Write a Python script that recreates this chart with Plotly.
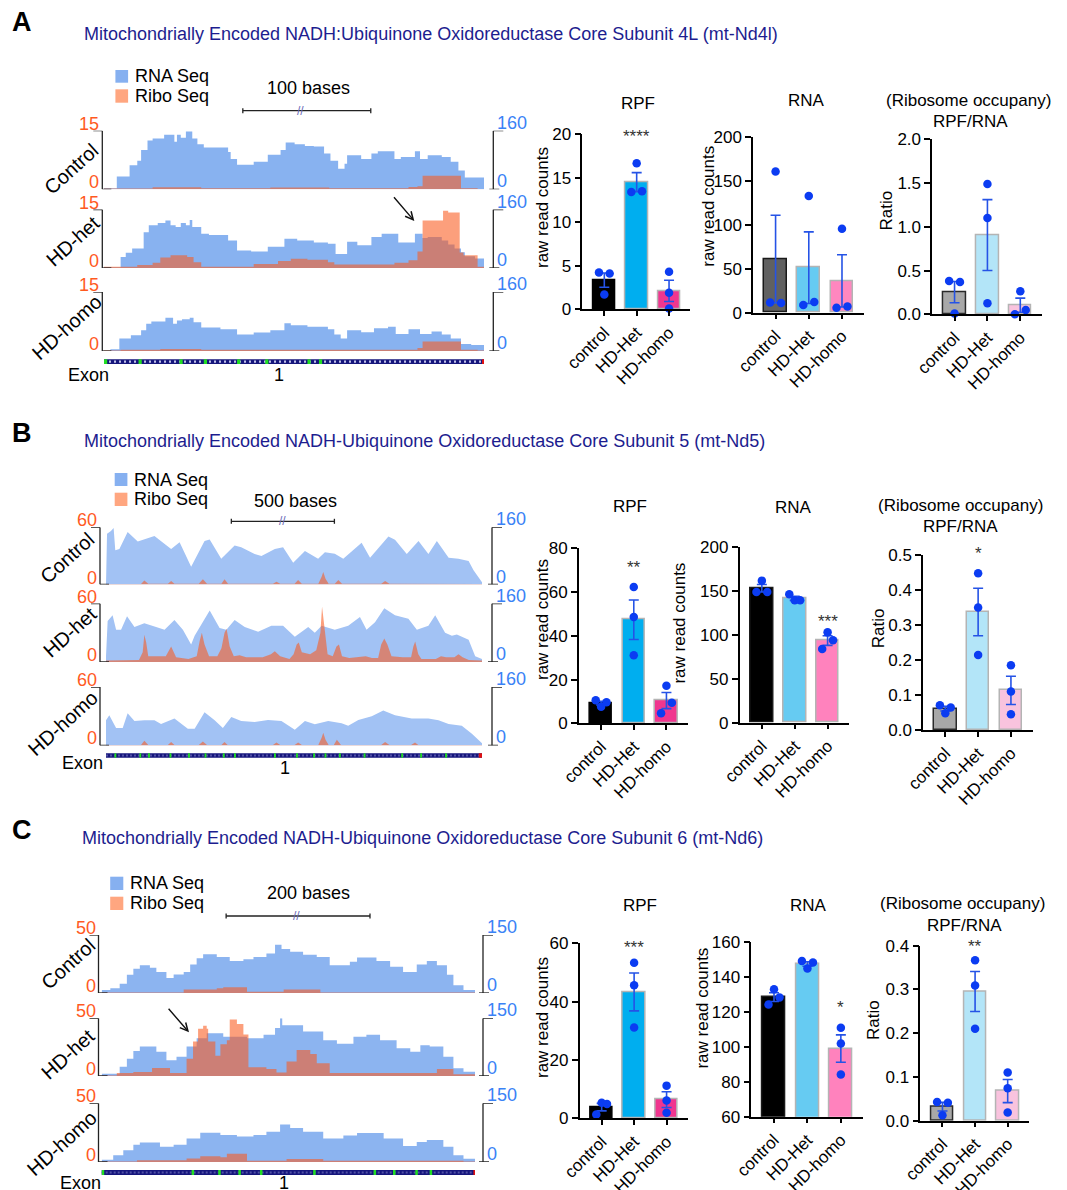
import numpy as np
import plotly.graph_objects as go

W, H = 1067, 1190
FONT = "Liberation Sans, Arial, Helvetica, sans-serif"


def fx(p):
    return p / W


def fy(p):
    return 1 - p / H


GROUPS = ["control", "HD-Het", "HD-homo"]
ROWS = ["Control", "HD-het", "HD-homo"]

TITLE_A = "Mitochondrially Encoded NADH:Ubiquinone Oxidoreductase Core Subunit 4L (mt-Nd4l)"
TITLE_B = "Mitochondrially Encoded NADH-Ubiquinone Oxidoreductase Core Subunit 5 (mt-Nd5)"
TITLE_C = "Mitochondrially Encoded NADH-Ubiquinone Oxidoreductase Core Subunit 6 (mt-Nd6)"

# ---------------- bar-chart data (3 replicates per group) ----------------
a_rpf = [[4.2, 1.7, 4.1], [13.4, 16.7, 13.5], [4.3, 1.9, 0.1]]
a_rna = [[11.5, 161.0, 11.0], [8.7, 133.0, 12.2], [5.7, 95.8, 7.2]]
a_ratio = [[0.38, 0.01, 0.37], [1.49, 1.10, 0.126], [0.0, 0.263, 0.05]]

b_rpf = [[10.5, 7.6, 9.6], [62.3, 48.6, 31.1], [4.6, 17.2, 9.4]]
b_rna = [[149.0, 162.0, 149.0], [146.4, 139.5, 139.5], [84.0, 103.0, 94.0]]
b_ratio = [[0.071, 0.048, 0.064], [0.448, 0.350, 0.214], [0.185, 0.110, 0.045]]

c_rpf = [[1.3, 5.3, 4.9], [53.3, 45.6, 31.1], [11.2, 6.1, 1.9]]
c_rna = [[124.2, 132.9, 128.2], [149.1, 144.8, 148.3], [110.9, 101.9, 84.2]]
c_ratio = [[0.0427, 0.0122, 0.041], [0.367, 0.309, 0.210], [0.110, 0.074, 0.019]]

# ---------------- coverage tracks: (base position, read count) ----------------
# mt-Nd4l (297 bases)  RNA scale 0-160, Ribo scale 0-15
a_ctrl_rna = [(0, 3), (10, 35), (20, 66), (26, 78), (29, 107), (34, 133), (38, 139), (47, 149), (55, 130),
              (57, 149), (60, 141), (64, 158), (69, 139), (73, 123), (78, 114), (97, 102), (99, 83), (104, 67),
              (117, 75), (128, 94), (138, 107), (142, 128), (149, 123), (157, 118), (164, 117), (172, 98),
              (177, 78), (183, 56), (188, 70), (190, 93), (201, 83), (209, 98), (214, 104), (227, 83), (232, 88),
              (243, 104), (247, 83), (253, 93), (264, 88), (271, 75), (277, 51), (282, 32), (297, 32)]
a_ctrl_ribo = [(0, 0.2), (38, 0.5), (76, 0.3), (130, 0.45), (176, 0.3), (238, 0.6), (245, 0.8), (249, 3.5),
               (279, 0.3), (292, 0.1), (297, 0.1)]
a_het_rna = [(0, 2), (13, 30), (17, 42), (22, 53), (31, 98), (35, 117), (42, 123), (48, 130), (52, 117), (56, 112),
             (60, 123), (64, 117), (67, 131), (69, 112), (76, 94), (82, 90), (97, 75), (104, 48), (115, 45),
             (128, 58), (141, 80), (151, 75), (164, 70), (175, 66), (181, 38), (190, 72), (198, 62), (209, 85),
             (217, 94), (230, 70), (243, 94), (249, 82), (253, 85), (264, 75), (269, 64), (274, 53), (279, 43),
             (282, 32), (290, 26), (297, 26)]
a_het_ribo = [(0, 0.3), (26, 0.75), (38, 1.35), (44, 2.7), (52, 3.3), (65, 2.85), (70, 1.5), (76, 0.3),
              (117, 1.05), (136, 1.8), (146, 2.4), (159, 2.1), (175, 1.5), (180, 0.9), (227, 1.35), (238, 2.0),
              (245, 4.2), (249, 12.2), (265, 14.7), (269, 14.2), (278, 4.0), (281, 3.3), (292, 0.3), (297, 0.3)]
a_homo_rna = [(0, 0), (5, 5), (12, 34), (21, 43), (29, 56), (33, 74), (37, 80), (48, 90), (54, 74), (57, 83),
              (61, 86), (67, 90), (70, 78), (76, 64), (91, 59), (104, 45), (117, 50), (130, 56), (141, 75),
              (146, 70), (159, 66), (175, 59), (180, 45), (185, 34), (190, 56), (201, 51), (211, 62), (222, 66),
              (228, 46), (238, 59), (247, 46), (256, 53), (264, 45), (271, 34), (279, 19), (287, 16), (297, 16)]
a_homo_ribo = [(0, 0.1), (13, 0.3), (44, 0.5), (76, 0.3), (245, 0.75), (249, 2.4), (279, 0.3), (292, 0.1),
               (297, 0.1)]

# mt-Nd5 (1824 bases)  RNA scale 0-160, Ribo scale 0-60
b_ctrl_rna = [(0, 0), (5, 142), (24, 150), (37, 158), (45, 96), (65, 99), (105, 147), (154, 120), (235, 136),
              (316, 99), (357, 118), (413, 50), (478, 122), (503, 126), (559, 72), (624, 109), (656, 104),
              (721, 85), (754, 80), (819, 99), (859, 104), (908, 61), (965, 94), (1029, 72), (1062, 90),
              (1110, 86), (1151, 72), (1240, 117), (1281, 75), (1370, 134), (1402, 125), (1459, 85), (1516, 122),
              (1564, 85), (1605, 122), (1662, 75), (1710, 72), (1759, 66), (1783, 40), (1824, 6)]
b_ctrl_ribo = [(0, 0.6), (170, 0.6), (186, 4.2), (205, 0.8), (300, 0.8), (316, 3.6), (332, 0.8), (450, 0.8),
               (470, 5.4), (490, 0.8), (560, 0.8), (575, 5.4), (592, 0.8), (810, 0.8), (827, 3), (845, 0.8),
               (915, 0.8), (932, 4.8), (950, 0.8), (1030, 0.8), (1046, 8), (1054, 13), (1065, 6), (1080, 0.8),
               (1110, 0.8), (1127, 4.8), (1145, 0.8), (1335, 0.8), (1354, 3.6), (1375, 0.8), (1824, 0.6)]
b_het_rna = [(0, 16), (8, 112), (32, 128), (49, 88), (73, 88), (102, 125), (138, 96), (186, 106), (243, 96),
             (284, 88), (332, 115), (373, 88), (413, 48), (430, 72), (503, 141), (551, 93), (584, 88), (624, 115),
             (673, 96), (738, 83), (802, 99), (859, 99), (916, 69), (981, 96), (1013, 80), (1046, 99), (1110, 88),
             (1175, 99), (1232, 123), (1264, 88), (1305, 109), (1350, 147), (1402, 128), (1467, 118), (1508, 88),
             (1564, 99), (1597, 128), (1645, 80), (1678, 72), (1702, 75), (1759, 61), (1791, 16), (1824, 8)]
b_het_ribo = [(0, 1.5), (160, 2), (178, 10), (186, 28), (195, 20), (205, 6), (260, 6), (290, 6), (316, 16),
              (340, 5), (400, 3), (440, 6), (455, 22), (465, 30), (478, 18), (500, 6), (540, 6), (560, 14),
              (575, 30), (585, 34), (600, 16), (620, 6), (648, 7), (680, 5), (760, 5), (800, 8), (819, 11),
              (845, 6), (890, 3), (910, 8), (925, 18), (935, 20), (950, 10), (990, 8), (1020, 12), (1040, 30),
              (1048, 57), (1052, 50), (1060, 30), (1075, 8), (1100, 6), (1118, 16), (1130, 18), (1145, 6),
              (1180, 4), (1260, 6), (1290, 4), (1320, 4), (1335, 18), (1350, 24), (1365, 18), (1385, 6),
              (1440, 5), (1480, 5), (1491, 16), (1500, 21), (1515, 8), (1530, 3), (1600, 3), (1625, 6),
              (1650, 5), (1690, 5), (1710, 8), (1730, 5), (1760, 2), (1824, 1.5)]
b_homo_rna = [(0, 69), (16, 83), (49, 48), (81, 48), (105, 88), (138, 67), (186, 69), (235, 69), (267, 59),
              (332, 74), (397, 46), (430, 46), (478, 91), (527, 69), (567, 48), (608, 78), (656, 67), (721, 64),
              (786, 70), (851, 67), (916, 43), (965, 67), (1013, 58), (1078, 67), (1143, 61), (1175, 54),
              (1224, 70), (1289, 80), (1345, 96), (1402, 83), (1483, 74), (1564, 74), (1613, 69), (1662, 59),
              (1726, 54), (1775, 32), (1824, 6)]
b_homo_ribo = [(0, 0.6), (170, 0.6), (186, 5), (205, 0.6), (300, 0.6), (316, 3.6), (332, 0.6), (450, 0.6),
               (470, 4.2), (490, 0.6), (560, 0.6), (575, 3.6), (590, 0.6), (810, 0.6), (827, 3), (845, 0.6),
               (915, 0.6), (932, 3), (950, 0.6), (1030, 0.6), (1046, 8), (1054, 13), (1065, 6), (1080, 0.6),
               (1105, 0.6), (1120, 6), (1140, 0.6), (1335, 0.6), (1354, 3.6), (1375, 0.6), (1480, 0.6),
               (1499, 3), (1515, 0.6), (1824, 0.6)]

# mt-Nd6 (519 bases)  RNA scale 0-150, Ribo scale 0-50
c_ctrl_rna = [(0, 8), (12, 12), (25, 24), (35, 47), (44, 63), (53, 72), (67, 65), (76, 54), (90, 39), (100, 48),
              (114, 54), (123, 74), (132, 90), (141, 100), (160, 93), (178, 83), (197, 87), (211, 93), (229, 102),
              (241, 125), (250, 114), (262, 107), (280, 99), (299, 93), (317, 72), (345, 81), (355, 92),
              (382, 83), (401, 68), (419, 54), (438, 74), (452, 83), (466, 72), (480, 47), (489, 20), (503, 8),
              (519, 8)]
c_ctrl_ribo = [(0, 0.5), (114, 3), (160, 4), (169, 5), (202, 1), (253, 3), (304, 0.5), (519, 0.5)]
c_het_rna = [(0, 6), (25, 24), (35, 45), (44, 65), (53, 77), (76, 63), (90, 41), (104, 50), (118, 77), (132, 98),
             (146, 111), (169, 102), (202, 98), (225, 107), (241, 125), (248, 150), (251, 132), (280, 116),
             (308, 93), (327, 84), (350, 102), (368, 107), (387, 93), (410, 72), (429, 63), (443, 80), (456, 77),
             (475, 50), (489, 20), (503, 11), (519, 11)]
c_het_ribo = [(0, 0.5), (21, 2.5), (44, 3.5), (70, 7), (95, 2.5), (118, 15), (127, 30), (134, 41), (141, 43.5),
              (146, 41), (148, 30), (158, 17.5), (165, 27.5), (174, 31), (178, 49), (188, 45), (197, 36),
              (204, 7.5), (229, 6), (243, 3), (257, 12.5), (271, 22.5), (290, 19), (299, 11), (317, 2.5),
              (466, 6), (489, 1.5), (519, 1.5)]
c_homo_rna = [(0, 6), (16, 17), (30, 30), (44, 44), (53, 50), (81, 39), (100, 44), (118, 60), (137, 75),
              (165, 69), (188, 65), (211, 69), (229, 77), (248, 96), (262, 87), (280, 77), (308, 60), (336, 68),
              (355, 74), (392, 60), (419, 41), (438, 51), (452, 56), (475, 39), (489, 17), (503, 8), (519, 8)]
c_homo_ribo = [(0, 0.5), (49, 1.5), (118, 3), (137, 5), (165, 4), (174, 7), (202, 1), (257, 2.5), (308, 1),
               (355, 1), (503, 0.5), (519, 0.5)]

# exon bar: positions of green codon marks (bases)
a_exon_green = [0, 27, 59, 78, 104, 126, 159, 168]
b_exon_green = [41, 162, 204, 308, 398, 478, 567, 621, 815, 922, 1005, 1060, 1130, 1250, 1432, 1524, 1645]
c_exon_green = [0, 125, 162, 190, 220, 294, 378, 405, 436, 456]

# ---------------- styles ----------------
ORANGE = "#ff5a1f"
BLUE_LAB = "#3a82f6"
RIBO_FILL = "rgba(250,90,30,0.58)"
DOT = "#0b3cf2"
EB = "#2553e6"
NAVY = "#16167c"
TITLE_COL = "#1d1d8f"

fig = go.Figure()
layout = {}
shapes = []
annotations = []
counter = {"x": 0, "y": 0}


def next_axis(kind):
    counter[kind] += 1
    n = counter[kind]
    if n == 1:
        return kind, kind + "axis"
    return f"{kind}{n}", f"{kind}axis{n}"


def text(x, y, s, size=17, color="black", xanchor="center", yanchor="middle", angle=0, bold=False,
         xref="paper", yref="paper", **kw):
    if bold:
        s = f"<b>{s}</b>"
    annotations.append(dict(x=x, y=y, xref=xref, yref=yref, text=s, showarrow=False, xanchor=xanchor,
                            yanchor=yanchor, textangle=angle,
                            font=dict(family=FONT, size=size, color=color), **kw))


def add_track(rna, ribo, L, xdom, ydom, nmax, rmax, shape, rna_col, lbr, rbr):
    xa, xk = next_axis("x")
    yn, ynk = next_axis("y")
    yr, yrk = next_axis("y")
    layout[xk] = dict(domain=[fx(xdom[0]), fx(xdom[1])], range=[0, L], visible=False, anchor=yn,
                      fixedrange=True, automargin=False)
    layout[ynk] = dict(domain=[fy(ydom[0]), fy(ydom[1])], range=[0, nmax], visible=False, anchor=xa,
                       fixedrange=True, automargin=False)
    layout[yrk] = dict(range=[0, rmax], visible=False, anchor=xa, overlaying=yn, fixedrange=True,
                       automargin=False)
    xs, ys = zip(*rna)
    fig.add_trace(go.Scatter(x=xs, y=ys, xaxis=xa, yaxis=yn, mode="lines",
                             line=dict(width=0, shape=shape, color=rna_col), fill="tozeroy",
                             fillcolor=rna_col, hoverinfo="skip", showlegend=False))
    xs, ys = zip(*ribo)
    fig.add_trace(go.Scatter(x=xs, y=ys, xaxis=xa, yaxis=yr, mode="lines",
                             line=dict(width=0, shape=shape, color=RIBO_FILL), fill="tozeroy",
                             fillcolor=RIBO_FILL, hoverinfo="skip", showlegend=False))
    lc = dict(color="#222222", width=1.3)
    # left bracket (Ribo scale)
    shapes.append(dict(type="line", xref="paper", yref=yr, x0=fx(lbr), x1=fx(lbr), y0=0, y1=rmax, line=lc))
    shapes.append(dict(type="line", xref="paper", yref=yr, x0=fx(lbr - 9), x1=fx(lbr), y0=rmax, y1=rmax, line=lc))
    shapes.append(dict(type="line", xref="paper", yref=yr, x0=fx(lbr), x1=fx(lbr + 9), y0=0, y1=0, line=lc))
    # right bracket (RNA scale)
    shapes.append(dict(type="line", xref="paper", yref=yn, x0=fx(rbr), x1=fx(rbr), y0=0, y1=nmax, line=lc))
    shapes.append(dict(type="line", xref="paper", yref=yn, x0=fx(rbr), x1=fx(rbr + 10), y0=nmax, y1=nmax, line=lc))
    shapes.append(dict(type="line", xref="paper", yref=yn, x0=fx(rbr - 4), x1=fx(rbr + 6), y0=0, y1=0, line=lc))
    for v in (rmax, 0):
        text(fx(lbr - 1), v, str(v), size=18, color=ORANGE, xanchor="right", yref=yr, yshift=7)
    for v in (nmax, 0):
        text(fx(rbr + 2), v, str(v), size=18, color=BLUE_LAB, xanchor="left", yref=yn, yshift=8)
    return xa


def jitter(vals, px_per_unit, d=0.165, thr=11.0):
    n = len(vals)
    order = sorted(range(n), key=lambda i: vals[i])
    clusters, cur = [], [order[0]]
    for i in order[1:]:
        if (vals[i] - vals[cur[-1]]) * px_per_unit < thr:
            cur.append(i)
        else:
            clusters.append(cur)
            cur = [i]
    clusters.append(cur)
    pattern = {1: [0.0], 2: [-d, d], 3: [-d, 0.0, d]}
    offs = [0.0] * n
    for c in clusters:
        for k, i in enumerate(sorted(c)):
            offs[i] = pattern[len(c)][k]
    return offs


def add_bars(vals, fills, borders, xdom, ydom, yrange, dtick, tickfmt, star=None):
    xa, xk = next_axis("x")
    ya, yk = next_axis("y")
    tf = dict(family=FONT, size=17, color="black")
    layout[xk] = dict(domain=[fx(xdom[0]), fx(xdom[1])], range=[-0.68, 2.66], anchor=ya, showline=True,
                      linecolor="black", linewidth=1.5, ticks="outside", ticklen=5, tickwidth=1.5,
                      tickcolor="black", tickvals=[0, 1, 2], ticktext=GROUPS, tickangle=-45, tickfont=tf,
                      showgrid=False, zeroline=False, fixedrange=True, automargin=False)
    layout[yk] = dict(domain=[fy(ydom[0]), fy(ydom[1])], range=list(yrange), anchor=xa, showline=True,
                      linecolor="black", linewidth=1.5, ticks="outside", ticklen=6, tickwidth=1.5,
                      tickcolor="black", tick0=yrange[0], dtick=dtick, tickformat=tickfmt, tickfont=tf,
                      showgrid=False, zeroline=False, fixedrange=True, automargin=False)
    means = [float(np.mean(v)) for v in vals]
    sems = [float(np.std(v, ddof=1) / np.sqrt(len(v))) for v in vals]
    fig.add_trace(go.Bar(x=[0, 1, 2], y=means, width=0.69, xaxis=xa, yaxis=ya,
                         marker=dict(color=fills, line=dict(color=borders, width=1.5)),
                         error_y=dict(type="data", array=sems, color=EB, thickness=1.6, width=5),
                         hoverinfo="skip", showlegend=False))
    ppu = (ydom[0] - ydom[1]) / (yrange[1] - yrange[0])
    for gi, v in enumerate(vals):
        offs = jitter(v, ppu)
        fig.add_trace(go.Scatter(x=[gi + o for o in offs], y=v, xaxis=xa, yaxis=ya, mode="markers",
                                 marker=dict(size=8.5, color=DOT), cliponaxis=False, hoverinfo="skip",
                                 showlegend=False))
    if star:
        s, gi, ypx = star
        text(gi, fy(ypx + 4), s, size=17, color="#333333", xref=xa)


RPF_F = ["#000000", "#00aeef", "#f0368f"]
RPF_B = ["#000000", "#b4b4b4", "#b4b4b4"]
RNA_FA = ["#616161", "#66cbf2", "#ff87bf"]
RNA_F = ["#000000", "#66cbf2", "#ff82bd"]
RNA_B = ["#1a1a1a", "#b4b4b4", "#b4b4b4"]
RAT_F = ["#a8a8a8", "#b3e5f8", "#f9c3de"]
RAT_B = ["#2a2a2a", "#b4b4b4", "#b4b4b4"]

panels = [
    dict(letter="A", letter_y=22, title=TITLE_A, title_x=82, title_y=34, L=297, xdom=(104, 484),
         rows=[(189.3, 130.7), (268.0, 209.5), (351.0, 292.0)], lbr=102.3, rbr=493.3, nmax=160, rmax=15,
         shape="hv", rna_col="#88b2f0",
         tracks=[(a_ctrl_rna, a_ctrl_ribo), (a_het_rna, a_het_ribo), (a_homo_rna, a_homo_ribo)],
         rowlab=[(71, 169), (73, 241), (67, 327)],
         legend=(115.4, 128.1, (70, 82.7), (89.3, 102.7), 132.6),
         scale=(108.5, 100, 110.7, (308.9, 88.3), 300, "100 bases"),
         exon=(359.3, 364.0), exon_lab=((88.8, 375), (279, 375)), greens=a_exon_green, gw=2.5, redw=5,
         dash=("#c0c0e6", "2px,3px"), arrow=((414.3, 221), (-21.6, -25.3)),
         bars=[(a_rpf, RPF_F, RPF_B, (582.3, 690.4), (309.3, 134.3), (0, 20), 5, "d", ("****", 1, 132.7)),
               (a_rna, RNA_FA, RNA_B, (753, 863.9), (312.7, 137.3), (0, 200), 50, "d", None),
               (a_ratio, RAT_F, RAT_B, (932.2, 1042), (314.3, 139.3), (0, 2), 0.5, ".1f", None)],
         btitles=[("RPF", 638, 103.3), ("RNA", 806.4, 100.7), ("(Ribosome occupany)", 968, 100.7),
                  ("RPF/RNA", 970, 121.7)],
         ylabs=[("raw read counts", 542, 208), ("raw read counts", 709, 206.7), ("Ratio", 885.5, 211)]),
    dict(letter="B", letter_y=433, title=TITLE_B, title_x=82, title_y=441, L=1824, xdom=(106, 482),
         rows=[(584.5, 527.3), (662.0, 603.5), (745.5, 687.0)], lbr=100, rbr=492, nmax=160, rmax=60,
         shape="linear", rna_col="#a2c2f4",
         tracks=[(b_ctrl_rna, b_ctrl_ribo), (b_het_rna, b_het_ribo), (b_homo_rna, b_homo_ribo)],
         rowlab=[(67, 558), (70, 632), (63, 723)],
         legend=(114.7, 127.4, (473, 486), (492.7, 506), 131.9),
         scale=(608, 500, 521.3, (295.1, 500.7), 282, "500 bases"),
         exon=(753.3, 757.7), exon_lab=((82.6, 762.7), (285, 768.3)), greens=b_exon_green, gw=9, redw=8,
         dash=("#5252a6", "2px,2px"), arrow=None,
         bars=[(b_rpf, RPF_F, RPF_B, (578.9, 688), (723.3, 548.3), (0, 80), 20, "d", ("**", 1, 563.3)),
               (b_rna, RNA_F, RNA_B, (739.5, 849.3), (722.7, 547.3), (0, 200), 50, "d", ("***", 2, 617.3)),
               (b_ratio, RAT_F, RAT_B, (923, 1032.6), (730, 555), (0, 0.5), 0.1, ".1f", ("*", 1, 549))],
         btitles=[("RPF", 629.6, 506.7), ("RNA", 793.5, 507.3), ("(Ribosome occupany)", 960, 505),
                  ("RPF/RNA", 960, 526)],
         ylabs=[("raw read counts", 542, 620), ("raw read counts", 679.3, 623.3), ("Ratio", 878, 628.3)]),
    dict(letter="C", letter_y=830, title=TITLE_C, title_x=80, title_y=838, L=519, xdom=(101.7, 475),
         rows=[(993.0, 935.0), (1076.0, 1018.3), (1162.0, 1103.3)], lbr=98.5, rbr=483, nmax=150, rmax=50,
         shape="hv", rna_col="#8cb4f0",
         tracks=[(c_ctrl_rna, c_ctrl_ribo), (c_het_rna, c_het_ribo), (c_homo_rna, c_homo_ribo)],
         rowlab=[(68, 964), (68, 1054), (62, 1143)],
         legend=(110.2, 123.3, (876.7, 890), (896.7, 910), 128),
         scale=(173, 200, 916, (308.9, 893.3), 296, "200 bases"),
         exon=(1170, 1175), exon_lab=((80, 1183.3), (284, 1183)), greens=c_exon_green, gw=3.5, redw=4,
         dash=("#5252a6", "2px,2px"), arrow=((189, 1032.3), (-21.7, -25)),
         bars=[(c_rpf, RPF_F, RPF_B, (579.6, 688), (1118.3, 943.3), (0, 60), 20, "d", ("***", 1, 943.3)),
               (c_rna, RNA_F, RNA_B, (751.3, 862.9), (1116.7, 942), (60, 160), 20, "d", ("*", 2, 1003.3)),
               (c_ratio, RAT_F, RAT_B, (920.3, 1029.2), (1120.7, 945.7), (0, 0.4), 0.1, ".1f",
                ("**", 1, 942.3))],
         btitles=[("RPF", 640.4, 905), ("RNA", 808.8, 905), ("(Ribosome occupany)", 962, 903.3),
                  ("RPF/RNA", 964, 925)],
         ylabs=[("raw read counts", 542, 1018), ("raw read counts", 702.3, 1008.3), ("Ratio", 873, 1020)]),
]

for P in panels:
    text(fx(22), fy(P["letter_y"]), P["letter"], size=27, bold=True)
    text(fx(P["title_x"]), fy(P["title_y"]), P["title"], size=18, color=TITLE_COL, xanchor="left")

    # legend
    lx0, lx1, (r0, r1), (b0, b1), tx = P["legend"]
    shapes.append(dict(type="rect", xref="paper", yref="paper", x0=fx(lx0), x1=fx(lx1), y0=fy(r1), y1=fy(r0),
                       fillcolor="#86b0f0", line=dict(width=0)))
    shapes.append(dict(type="rect", xref="paper", yref="paper", x0=fx(lx0), x1=fx(lx1), y0=fy(b1), y1=fy(b0),
                       fillcolor="#ffa680", line=dict(width=0)))
    text(fx(tx), fy((r0 + r1) / 2), "RNA Seq", size=18, xanchor="left")
    text(fx(tx), fy((b0 + b1) / 2), "Ribo Seq", size=18, xanchor="left")

    xaxes = []
    for r, ((rna, ribo), ydom) in enumerate(zip(P["tracks"], P["rows"])):
        xa = add_track(rna, ribo, P["L"], P["xdom"], ydom, P["nmax"], P["rmax"], P["shape"], P["rna_col"],
                       P["lbr"], P["rbr"])
        xaxes.append(xa)
        cx, cy = P["rowlab"][r]
        text(fx(cx), fy(cy), ROWS[r], size=20, angle=-42)

    # scale bar (in bases, on the top track's x scale)
    s0, slen, sy, (lx, ly), slash_x, stext = P["scale"]
    sc = dict(color="#222222", width=1.3)
    shapes.append(dict(type="line", xref=xaxes[0], yref="paper", x0=s0, x1=s0 + slen, y0=fy(sy), y1=fy(sy),
                       line=sc))
    for xe in (s0, s0 + slen):
        shapes.append(dict(type="line", xref=xaxes[0], yref="paper", x0=xe, x1=xe, y0=fy(sy - 2.5),
                           y1=fy(sy + 2.5), line=sc))
    text(fx(lx), fy(ly), stext, size=18)
    text(fx(slash_x), fy(sy), "//", size=12, color="#6a6ab8")

    # exon bar
    e0, e1 = P["exon"]
    x0p, x1p = P["xdom"]
    shapes.append(dict(type="rect", xref="paper", yref="paper", x0=fx(x0p), x1=fx(x1p), y0=fy(e1), y1=fy(e0),
                       fillcolor=NAVY, line=dict(width=0)))
    dcol, dpat = P["dash"]
    shapes.append(dict(type="line", xref="paper", yref="paper", x0=fx(x0p), x1=fx(x1p - P["redw"] * 0.3),
                       y0=fy((e0 + e1) / 2), y1=fy((e0 + e1) / 2), line=dict(color=dcol, width=2.2, dash=dpat)))
    for g in P["greens"]:
        shapes.append(dict(type="rect", xref=xaxes[2], yref="paper", x0=g, x1=g + P["gw"], y0=fy(e1),
                           y1=fy(e0), fillcolor="#22dd22", line=dict(width=0)))
    shapes.append(dict(type="rect", xref="paper", yref="paper", x0=fx(x1p - P["redw"] * 0.4), x1=fx(x1p),
                       y0=fy(e1), y1=fy(e0), fillcolor="#e01010", line=dict(width=0)))
    (ex, ey), (ox, oy) = P["exon_lab"]
    text(fx(ex), fy(ey), "Exon", size=18)
    text(fx(ox), fy(oy), "1", size=18)

    if P["arrow"]:
        (tx_, ty_), (ax_, ay_) = P["arrow"]
        annotations.append(dict(x=fx(tx_), y=fy(ty_), xref="paper", yref="paper", text="", showarrow=True,
                                ax=ax_, ay=ay_, arrowhead=5, arrowsize=1.1, arrowwidth=1.4,
                                arrowcolor="#111111"))

    for (vals, fills, borders, xd, yd, yrg, dt, tfmt, star) in P["bars"]:
        add_bars(vals, fills, borders, xd, yd, yrg, dt, tfmt, star)
    for (s, x, y) in P["btitles"]:
        text(fx(x), fy(y), s, size=17)
    for (s, x, y) in P["ylabs"]:
        text(fx(x), fy(y), s, size=17, angle=-90)

fig.update_layout(width=W, height=H, autosize=False,
                  margin=dict(l=0, r=0, t=0, b=0, pad=0, autoexpand=False),
                  paper_bgcolor="white", plot_bgcolor="white", showlegend=False, bargap=0,
                  shapes=shapes, annotations=annotations, font=dict(family=FONT), **layout)
fig.write_html("out.html", config={"displayModeBar": False},
               post_script="document.body.style.margin='0';document.body.style.overflow='hidden';")
